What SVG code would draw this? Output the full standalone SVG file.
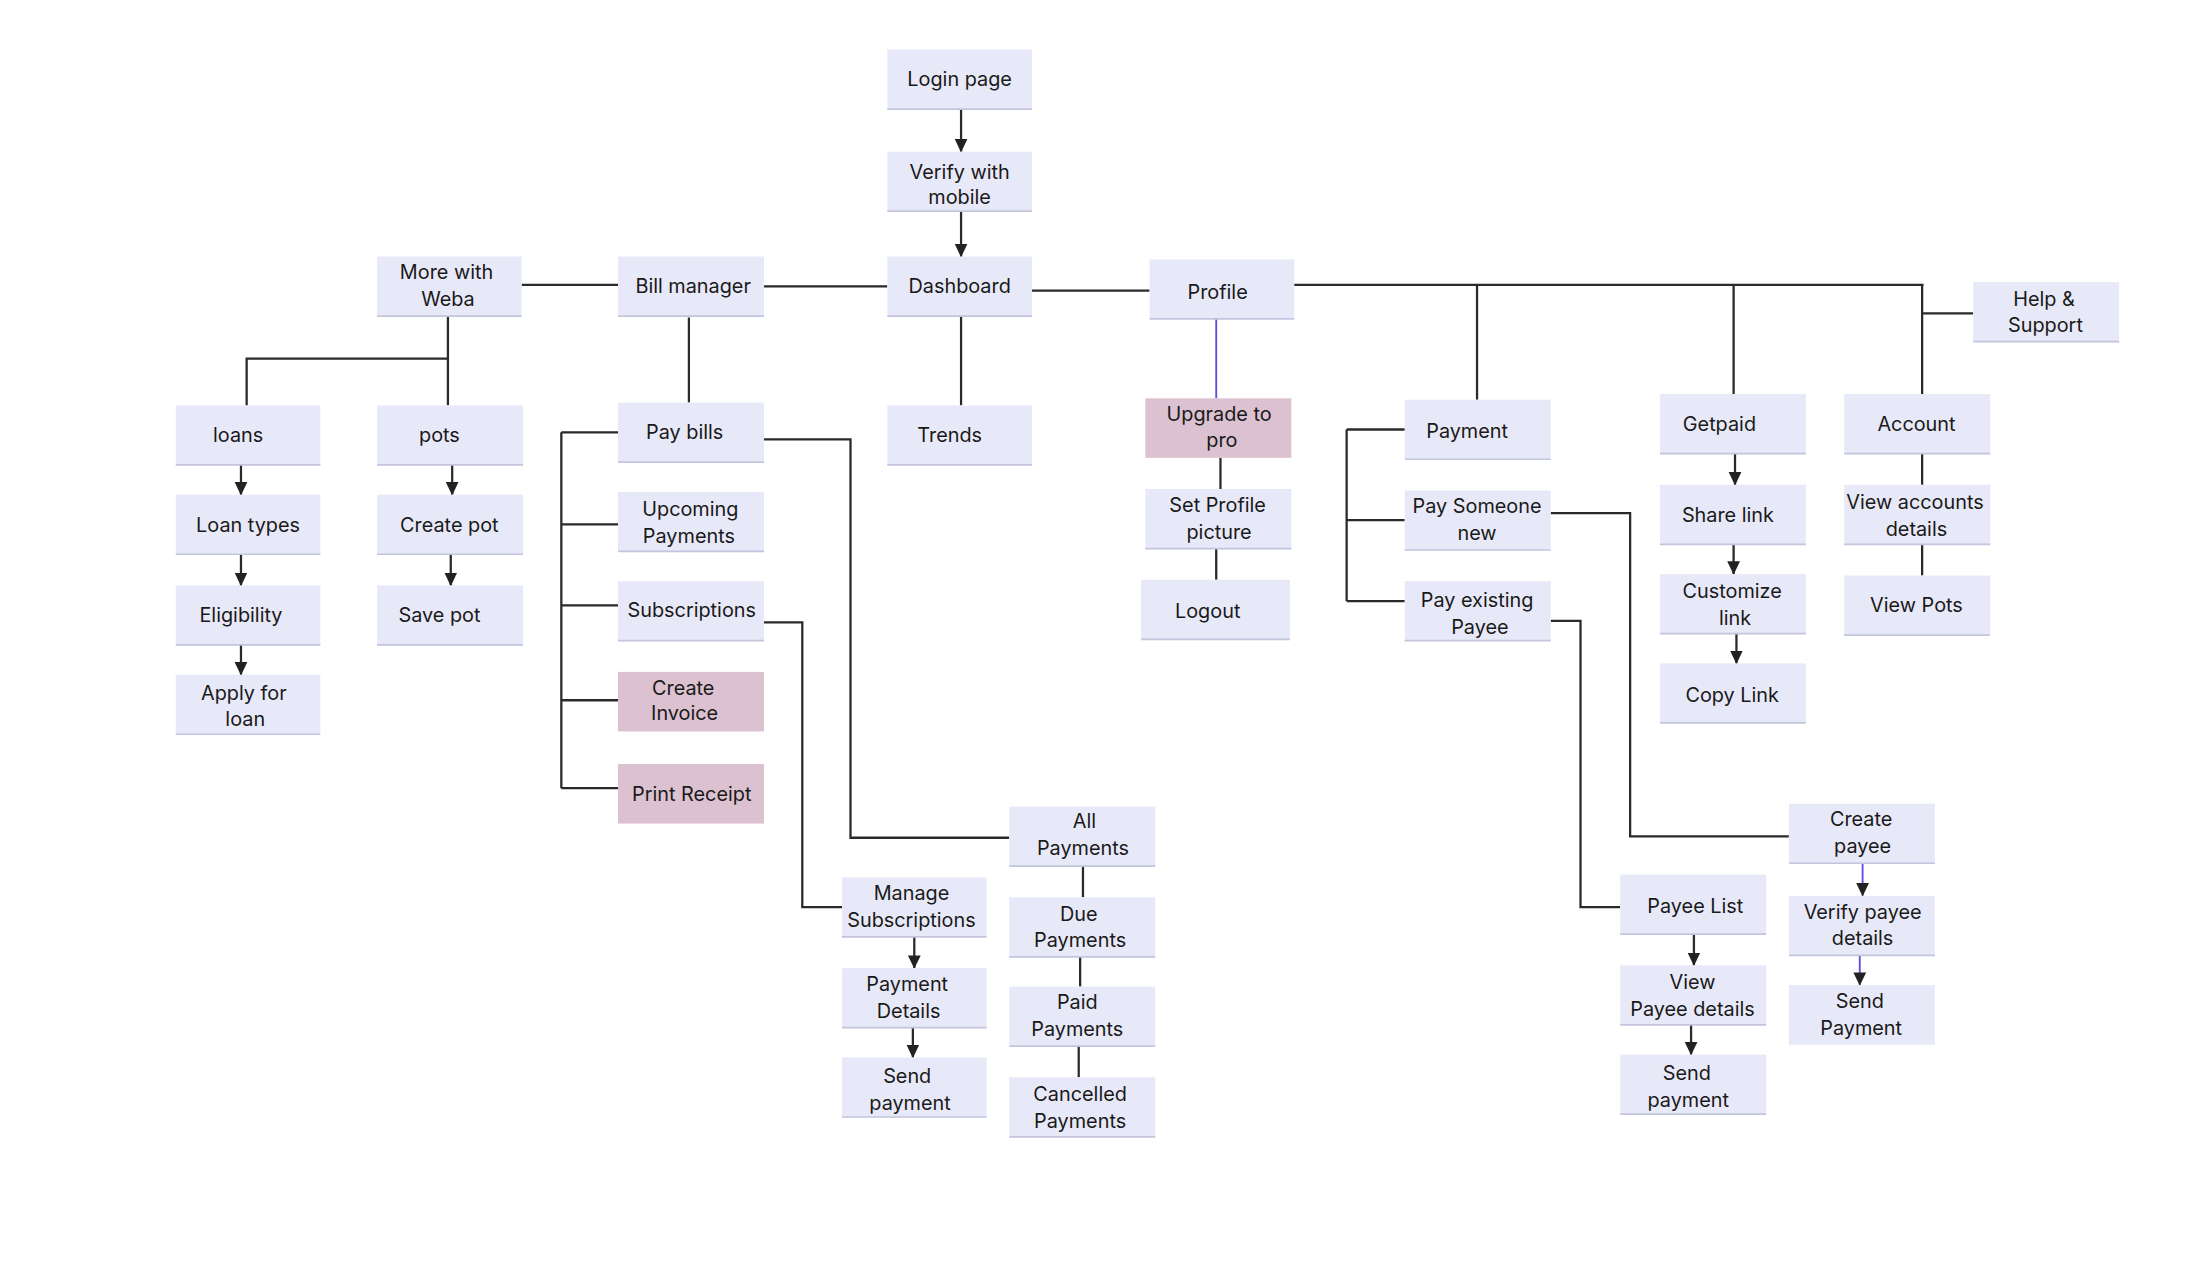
<svg xmlns="http://www.w3.org/2000/svg" width="2200" height="1277" viewBox="0 0 2200 1277">
<defs>
<marker id="ah" markerWidth="10" markerHeight="10" refX="9" refY="5" orient="auto" markerUnits="userSpaceOnUse"><path d="M0,0.5 L9.5,5 L0,9.5 z" fill="#222"/></marker>
<style>
.n rect{fill:#e8e9f8;stroke:none}
.n line{stroke:#c3c4de;stroke-width:1.2}
.p rect{fill:#dcc1d0}
.n text{font-family:Inter,"Liberation Sans",sans-serif;font-size:14px;fill:#1a1a1a;text-anchor:middle}
.c path{fill:none;stroke:#2a2a2a;stroke-width:1.6}
.c .pu{stroke:#5a4de0;stroke-width:1.3}
.c .a{marker-end:url(#ah)}
</style>
</defs>
<rect width="2200" height="1277" fill="#fff"/>
<g transform="scale(1.4175)">
<g class="c" id="connectors">
<path class="a" d="M678,77V107"/>
<path class="a" d="M678,149V181"/>
<path d="M539,202H626"/>
<path d="M368,201H436"/>
<path d="M728,205H811"/>
<path d="M913,201H1357"/>
<path d="M1042,201V282"/>
<path d="M1223,201V278"/>
<path d="M1356,201V278"/>
<path d="M1356,221H1392"/>
<path d="M678,223V286"/>
<path d="M486,224V284"/>
<path d="M316,223V286"/>
<path d="M316,253H174V286"/>
<path class="a" d="M170,328V349"/>
<path class="a" d="M170,391V413"/>
<path class="a" d="M170,455V476"/>
<path class="a" d="M319,328V349"/>
<path class="a" d="M318,391V413"/>
<path d="M396,305V556"/>
<path d="M396,305H436M396,370H436M396,427H436M396,494H436M396,556H436"/>
<path d="M539,310H600V591H712"/>
<path d="M539,439H566V640H594"/>
<path class="a" d="M645,661V683"/>
<path class="a" d="M644,725V746"/>
<path d="M764,611V633"/>
<path d="M762,675V696"/>
<path d="M761,738V760"/>
<path class="pu" d="M858,225V281"/>
<path d="M861,323V345"/>
<path d="M858,387V409"/>
<path d="M950,303V424"/>
<path d="M950,303H991M950,367H991M950,424H991"/>
<path d="M1094,362H1150V590H1262"/>
<path d="M1094,438H1115V640H1143"/>
<path class="a" d="M1224,320V342"/>
<path class="a" d="M1223,384V405"/>
<path class="a" d="M1225,447V468"/>
<path d="M1356,320V342"/>
<path d="M1356,384V406"/>
<path class="pu a" d="M1314,609V632"/>
<path class="pu a" d="M1312,674V695"/>
<path class="a" d="M1195,659V681"/>
<path class="a" d="M1193,723V744"/>
</g>
<g id="login" class="n"><rect x="626" y="35" width="102" height="42"/><line x1="626" y1="77" x2="728" y2="77"/><text x="677" y="61">Login page</text></g>
<g id="verify" class="n"><rect x="626" y="107" width="102" height="42"/><line x1="626" y1="149" x2="728" y2="149"/><text x="677" y="126">Verify with</text><text x="677" y="144">mobile</text></g>
<g id="dashboard" class="n"><rect x="626" y="181" width="102" height="42"/><line x1="626" y1="223" x2="728" y2="223"/><text x="677" y="207">Dashboard</text></g>
<g id="billmanager" class="n"><rect x="436" y="181" width="103" height="42"/><line x1="436" y1="223" x2="539" y2="223"/><text x="489" y="207">Bill manager</text></g>
<g id="moreweba" class="n"><rect x="266" y="181" width="102" height="42"/><line x1="266" y1="223" x2="368" y2="223"/><text x="315" y="197">More with</text><text x="316" y="216">Weba</text></g>
<g id="profile" class="n"><rect x="811" y="183" width="102" height="42"/><line x1="811" y1="225" x2="913" y2="225"/><text x="859" y="211">Profile</text></g>
<g id="help" class="n"><rect x="1392" y="199" width="103" height="42"/><line x1="1392" y1="241" x2="1495" y2="241"/><text x="1442" y="216">Help &amp;</text><text x="1443" y="234">Support</text></g>
<g id="trends" class="n"><rect x="626" y="286" width="102" height="42"/><line x1="626" y1="328" x2="728" y2="328"/><text x="670" y="312">Trends</text></g>
<g id="paybills" class="n"><rect x="436" y="284" width="103" height="42"/><line x1="436" y1="326" x2="539" y2="326"/><text x="483" y="310">Pay bills</text></g>
<g id="upcoming" class="n"><rect x="436" y="347" width="103" height="42"/><line x1="436" y1="389" x2="539" y2="389"/><text x="487" y="364">Upcoming</text><text x="486" y="383">Payments</text></g>
<g id="subscriptions" class="n"><rect x="436" y="410" width="103" height="42"/><line x1="436" y1="452" x2="539" y2="452"/><text x="488" y="435">Subscriptions</text></g>
<g id="invoice" class="n p"><rect x="436" y="474" width="103" height="42"/><text x="482" y="490">Create</text><text x="483" y="508">Invoice</text></g>
<g id="receipt" class="n p"><rect x="436" y="539" width="103" height="42"/><text x="488" y="565">Print Receipt</text></g>
<g id="loans" class="n"><rect x="124" y="286" width="102" height="42"/><line x1="124" y1="328" x2="226" y2="328"/><text x="168" y="312">loans</text></g>
<g id="loantypes" class="n"><rect x="124" y="349" width="102" height="42"/><line x1="124" y1="391" x2="226" y2="391"/><text x="175" y="375">Loan types</text></g>
<g id="eligibility" class="n"><rect x="124" y="413" width="102" height="42"/><line x1="124" y1="455" x2="226" y2="455"/><text x="170" y="439">Eligibility</text></g>
<g id="applyloan" class="n"><rect x="124" y="476" width="102" height="42"/><line x1="124" y1="518" x2="226" y2="518"/><text x="172" y="494">Apply for</text><text x="173" y="512">loan</text></g>
<g id="pots" class="n"><rect x="266" y="286" width="103" height="42"/><line x1="266" y1="328" x2="369" y2="328"/><text x="310" y="312">pots</text></g>
<g id="createpot" class="n"><rect x="266" y="349" width="103" height="42"/><line x1="266" y1="391" x2="369" y2="391"/><text x="317" y="375">Create pot</text></g>
<g id="savepot" class="n"><rect x="266" y="413" width="103" height="42"/><line x1="266" y1="455" x2="369" y2="455"/><text x="310" y="439">Save pot</text></g>
<g id="upgrade" class="n p"><rect x="808" y="281" width="103" height="42"/><text x="860" y="297">Upgrade to</text><text x="862" y="315">pro</text></g>
<g id="setprofile" class="n"><rect x="808" y="345" width="103" height="42"/><line x1="808" y1="387" x2="911" y2="387"/><text x="859" y="361">Set Profile</text><text x="860" y="380">picture</text></g>
<g id="logout" class="n"><rect x="805" y="409" width="105" height="42"/><line x1="805" y1="451" x2="910" y2="451"/><text x="852" y="436">Logout</text></g>
<g id="payment" class="n"><rect x="991" y="282" width="103" height="42"/><line x1="991" y1="324" x2="1094" y2="324"/><text x="1035" y="309">Payment</text></g>
<g id="paysomeone" class="n"><rect x="991" y="346" width="103" height="42"/><line x1="991" y1="388" x2="1094" y2="388"/><text x="1042" y="362">Pay Someone</text><text x="1042" y="381">new</text></g>
<g id="payexisting" class="n"><rect x="991" y="410" width="103" height="42"/><line x1="991" y1="452" x2="1094" y2="452"/><text x="1042" y="428">Pay existing</text><text x="1044" y="447">Payee</text></g>
<g id="getpaid" class="n"><rect x="1171" y="278" width="103" height="42"/><line x1="1171" y1="320" x2="1274" y2="320"/><text x="1213" y="304">Getpaid</text></g>
<g id="sharelink" class="n"><rect x="1171" y="342" width="103" height="42"/><line x1="1171" y1="384" x2="1274" y2="384"/><text x="1219" y="368">Share link</text></g>
<g id="customize" class="n"><rect x="1171" y="405" width="103" height="42"/><line x1="1171" y1="447" x2="1274" y2="447"/><text x="1222" y="422">Customize</text><text x="1224" y="441">link</text></g>
<g id="copylink" class="n"><rect x="1171" y="468" width="103" height="42"/><line x1="1171" y1="510" x2="1274" y2="510"/><text x="1222" y="495">Copy Link</text></g>
<g id="account" class="n"><rect x="1301" y="278" width="103" height="42"/><line x1="1301" y1="320" x2="1404" y2="320"/><text x="1352" y="304">Account</text></g>
<g id="viewaccounts" class="n"><rect x="1301" y="342" width="103" height="42"/><line x1="1301" y1="384" x2="1404" y2="384"/><text x="1351" y="359">View accounts</text><text x="1352" y="378">details</text></g>
<g id="viewpots" class="n"><rect x="1301" y="406" width="103" height="42"/><line x1="1301" y1="448" x2="1404" y2="448"/><text x="1352" y="432">View Pots</text></g>
<g id="allpayments" class="n"><rect x="712" y="569" width="103" height="42"/><line x1="712" y1="611" x2="815" y2="611"/><text x="765" y="584">All</text><text x="764" y="603">Payments</text></g>
<g id="duepayments" class="n"><rect x="712" y="633" width="103" height="42"/><line x1="712" y1="675" x2="815" y2="675"/><text x="761" y="650">Due</text><text x="762" y="668">Payments</text></g>
<g id="paidpayments" class="n"><rect x="712" y="696" width="103" height="42"/><line x1="712" y1="738" x2="815" y2="738"/><text x="760" y="712">Paid</text><text x="760" y="731">Payments</text></g>
<g id="cancelled" class="n"><rect x="712" y="760" width="103" height="42"/><line x1="712" y1="802" x2="815" y2="802"/><text x="762" y="777">Cancelled</text><text x="762" y="796">Payments</text></g>
<g id="managesubs" class="n"><rect x="594" y="619" width="102" height="42"/><line x1="594" y1="661" x2="696" y2="661"/><text x="643" y="635">Manage</text><text x="643" y="654">Subscriptions</text></g>
<g id="paymentdetails" class="n"><rect x="594" y="683" width="102" height="42"/><line x1="594" y1="725" x2="696" y2="725"/><text x="640" y="699">Payment</text><text x="641" y="718">Details</text></g>
<g id="sendpayment1" class="n"><rect x="594" y="746" width="102" height="42"/><line x1="594" y1="788" x2="696" y2="788"/><text x="640" y="764">Send</text><text x="642" y="783">payment</text></g>
<g id="createpayee" class="n"><rect x="1262" y="567" width="103" height="42"/><line x1="1262" y1="609" x2="1365" y2="609"/><text x="1313" y="583">Create</text><text x="1314" y="602">payee</text></g>
<g id="verifypayee" class="n"><rect x="1262" y="632" width="103" height="42"/><line x1="1262" y1="674" x2="1365" y2="674"/><text x="1314" y="648">Verify payee</text><text x="1314" y="667">details</text></g>
<g id="sendpayment3" class="n"><rect x="1262" y="695" width="103" height="42"/><text x="1312" y="711">Send</text><text x="1313" y="730">Payment</text></g>
<g id="payeelist" class="n"><rect x="1143" y="617" width="103" height="42"/><line x1="1143" y1="659" x2="1246" y2="659"/><text x="1196" y="644">Payee List</text></g>
<g id="viewpayee" class="n"><rect x="1143" y="681" width="103" height="42"/><line x1="1143" y1="723" x2="1246" y2="723"/><text x="1194" y="698">View</text><text x="1194" y="717">Payee details</text></g>
<g id="sendpayment2" class="n"><rect x="1143" y="744" width="103" height="42"/><line x1="1143" y1="786" x2="1246" y2="786"/><text x="1190" y="762">Send</text><text x="1191" y="781">payment</text></g>
</g>
</svg>
